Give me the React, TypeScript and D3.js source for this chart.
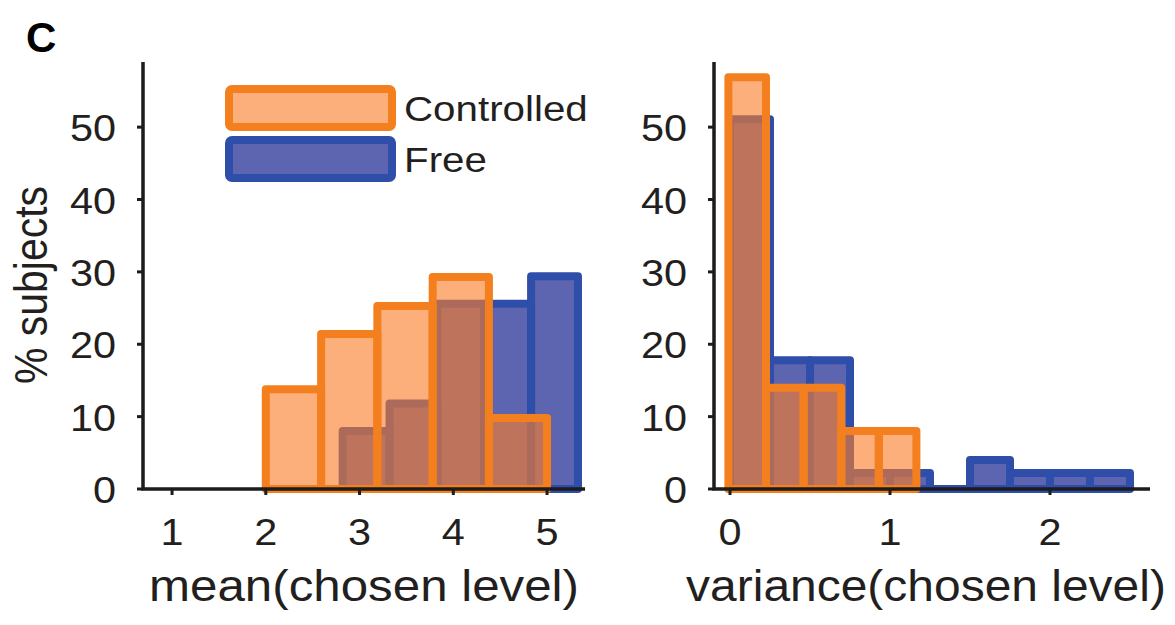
import React, {useEffect, useRef} from 'react';
import * as d3 from 'd3';

// ---- data ----
const yTicks = [0, 10, 20, 30, 40, 50];
const meanTicks = [1, 2, 3, 4, 5];
const varTicks = [0, 1, 2];

// mean(chosen level) histograms: bin edges + % subjects
const meanControlledEdges = [2.0, 2.59, 3.19, 3.78, 4.38, 5.0];
const meanControlledPct = [13.8, 21.4, 25.3, 29.3, 9.8];
const meanFreeEdges = [2.82, 3.32, 3.83, 4.33, 4.83, 5.33];
const meanFreePct = [8.0, 11.8, 25.6, 25.6, 29.4];

// variance(chosen level) histograms
const varControlledEdges = [-0.01, 0.225, 0.46, 0.695, 0.93, 1.165];
const varControlledPct = [56.9, 14.0, 14.0, 8.0, 8.0];
const varFreeEdges = [0, 0.25, 0.5, 0.75, 1.0, 1.25, 1.5, 1.75, 2.0, 2.25, 2.5];
const varFreePct = [51.1, 17.8, 17.8, 2.2, 2.2, 0, 4.0, 2.2, 2.2, 2.2];

const seriesNames = ['Controlled', 'Free'];

const FONT = "'Liberation Sans', Arial, Helvetica, sans-serif";
const STRETCH = 1.12; // text in the figure is a bit wide
const ORANGE_EDGE = '#f47f1f';
const ORANGE_FILL = '#fa7c2a';
const ORANGE_ALPHA = 0.62;
const BLUE_EDGE = '#2f4ea9';
const BLUE_FILL = '#5e65b0';
const AXIS = '#1d1b1c';

type Bin = {x0: number; x1: number; v: number};

const toBins = (edges: number[], pct: number[]): Bin[] =>
  pct.map((v, i) => ({x0: edges[i], x1: edges[i + 1], v}));

const App: React.FC = () => {
  const svgRef = useRef<SVGSVGElement | null>(null);

  useEffect(() => {
    if (!svgRef.current) return;
    const svg = d3.select(svgRef.current);
    svg.selectAll('*').remove();

    const yTop = 62;
    const yBase = 489;

    const stretchText = (
      sel: d3.Selection<SVGTextElement, unknown, null, undefined>,
      x: number,
      y: number,
      rotate = 0,
      k = STRETCH
    ) =>
      sel.attr(
        'transform',
        `translate(${x},${y})${rotate ? ` rotate(${rotate})` : ''} scale(${
          rotate ? 1 : k
        },${rotate ? k : 1})`
      );

    const drawPanel = (
      xDomain: [number, number],
      xRange: [number, number],
      xTicks: number[],
      free: Bin[],
      controlled: Bin[],
      xTitle: string,
      titleX: number,
      titleStretch: number
    ) => {
      const x = d3.scaleLinear().domain(xDomain).range(xRange);
      const y = d3.scaleLinear().domain([0, 59]).range([yBase, yTop]);
      const g = svg.append('g');

      const rect = (b: Bin) =>
        `M${x(b.x0)},${y(0)}V${y(b.v)}H${x(b.x1)}V${y(0)}Z`;

      // Free (blue) underneath
      g.append('g')
        .selectAll('path')
        .data(free)
        .enter()
        .append('path')
        .attr('d', rect)
        .attr('fill', BLUE_FILL);
      g.append('g')
        .selectAll('path')
        .data(free)
        .enter()
        .append('path')
        .attr('d', rect)
        .attr('fill', 'none')
        .attr('stroke', BLUE_EDGE)
        .attr('stroke-width', 8)
        .attr('stroke-linejoin', 'round');

      // Controlled (orange), translucent faces on top
      g.append('g')
        .selectAll('path')
        .data(controlled)
        .enter()
        .append('path')
        .attr('d', rect)
        .attr('fill', ORANGE_FILL)
        .attr('fill-opacity', ORANGE_ALPHA);
      g.append('g')
        .selectAll('path')
        .data(controlled)
        .enter()
        .append('path')
        .attr('d', rect)
        .attr('fill', 'none')
        .attr('stroke', ORANGE_EDGE)
        .attr('stroke-width', 8)
        .attr('stroke-linejoin', 'round');

      // axes
      g.append('path')
        .attr('d', `M${xRange[0]},${yTop}V${yBase}H${xRange[1]}`)
        .attr('fill', 'none')
        .attr('stroke', AXIS)
        .attr('stroke-width', 3.5);

      yTicks.forEach((t) => {
        g.append('line')
          .attr('x1', xRange[0] - 6)
          .attr('x2', xRange[0])
          .attr('y1', y(t))
          .attr('y2', y(t))
          .attr('stroke', AXIS)
          .attr('stroke-width', 3);
        g.append('text')
          .attr('text-anchor', 'end')
          .attr('dominant-baseline', 'central')
          .attr('font-family', FONT)
          .attr('font-size', 37)
          .attr('fill', '#231f20')
          .text(t)
          .call(stretchText, xRange[0] - 27, y(t) + 1);
      });

      xTicks.forEach((t) => {
        g.append('line')
          .attr('x1', x(t))
          .attr('x2', x(t))
          .attr('y1', yBase)
          .attr('y2', yBase + 6)
          .attr('stroke', AXIS)
          .attr('stroke-width', 3);
        g.append('text')
          .attr('text-anchor', 'middle')
          .attr('font-family', FONT)
          .attr('font-size', 37)
          .attr('fill', '#231f20')
          .text(t)
          .call(stretchText, x(t), 545);
      });

      g.append('text')
        .attr('text-anchor', 'middle')
        .attr('font-family', FONT)
        .attr('font-size', 44)
        .attr('fill', '#231f20')
        .text(xTitle)
        .call(stretchText, titleX, 601, 0, titleStretch);
    };

    drawPanel(
      [0.69, 5.405],
      [143, 585],
      meanTicks,
      toBins(meanFreeEdges, meanFreePct),
      toBins(meanControlledEdges, meanControlledPct),
      'mean(chosen level)',
      364,
      STRETCH
    );
    drawPanel(
      [-0.1, 2.625],
      [714, 1150],
      varTicks,
      toBins(varFreeEdges, varFreePct),
      toBins(varControlledEdges, varControlledPct),
      'variance(chosen level)',
      926,
      1.09
    );

    // y title
    svg
      .append('text')
      .attr('text-anchor', 'middle')
      .attr('font-family', FONT)
      .attr('font-size', 41)
      .attr('fill', '#231f20')
      .text('% subjects')
      .call(stretchText, 47, 285, -90);

    // panel letter
    svg
      .append('text')
      .attr('x', 26)
      .attr('y', 52)
      .attr('font-family', FONT)
      .attr('font-weight', 'bold')
      .attr('font-size', 42)
      .attr('fill', '#000')
      .text('C');

    // legend
    const legend = svg.append('g');
    seriesNames.forEach((name, i) => {
      const top = 89 + i * 51;
      legend
        .append('rect')
        .attr('x', 229)
        .attr('y', top)
        .attr('width', 163)
        .attr('height', 38)
        .attr('rx', 3)
        .attr('fill', i === 0 ? ORANGE_FILL : BLUE_FILL)
        .attr('fill-opacity', i === 0 ? ORANGE_ALPHA : 1)
        .attr('stroke', i === 0 ? ORANGE_EDGE : BLUE_EDGE)
        .attr('stroke-width', 8)
        .attr('stroke-linejoin', 'round');
      legend
        .append('text')
        .attr('font-family', FONT)
        .attr('font-size', 36)
        .attr('fill', '#231f20')
        .text(name)
        .call(stretchText, 404, top + 32);
    });
  }, []);

  return (
    <svg
      ref={svgRef}
      width={1175}
      height={625}
      style={{position: 'absolute', left: 0, top: 0, background: '#fff'}}
    />
  );
};

export default App;
